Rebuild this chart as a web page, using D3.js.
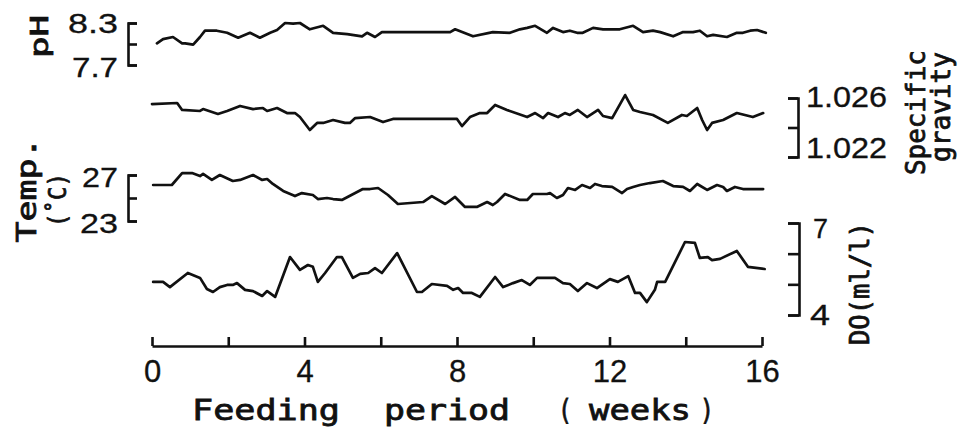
<!DOCTYPE html>
<html>
<head>
<meta charset="utf-8">
<script src="https://cdn.jsdelivr.net/npm/d3@7"></script>
<style>
  html, body { margin: 0; background: #fff; }
  svg { display: block; }
</style>
</head>
<body>
<svg id="chart" width="966" height="429"></svg>
<script>
// ---- Water quality records over the feeding period (weeks) ----
const phWeeks = [0.13,0.29,0.55,0.79,0.87,1.08,1.26,1.39,1.70,1.97,2.26,2.57,2.83,3.10,3.28,3.49,3.70,3.88,4.14,4.49,4.75,5.12,5.51,5.64,5.85,6.03,7.82,7.95,8.42,8.94,9.39,9.65,9.84,10.05,10.36,10.52,10.78,10.96,11.15,11.30,11.57,11.83,12.27,12.62,12.88,13.14,13.33,13.67,13.93,14.19,14.37,14.56,14.72,15.08,15.34,15.50,15.69,15.87,16.10];
const phValues = [8.01,8.07,8.10,8.01,8.01,7.99,8.10,8.19,8.19,8.16,8.09,8.16,8.09,8.16,8.20,8.30,8.29,8.30,8.21,8.26,8.16,8.14,8.11,8.16,8.10,8.17,8.17,8.21,8.11,8.17,8.16,8.21,8.23,8.26,8.16,8.23,8.17,8.19,8.16,8.16,8.23,8.21,8.21,8.26,8.17,8.19,8.17,8.11,8.17,8.17,8.19,8.11,8.13,8.10,8.16,8.16,8.19,8.20,8.16];

const sgWeeks = [0,0.66,0.79,1.26,1.34,1.73,1.97,2.31,2.65,2.91,3.02,3.28,3.54,3.75,3.88,4.14,4.33,4.49,4.75,5.06,5.19,5.33,5.72,6.06,6.32,8.00,8.13,8.34,8.60,8.79,9.00,9.31,9.84,10.05,10.26,10.39,10.65,10.83,10.96,11.17,11.41,11.70,11.83,12.07,12.41,12.62,12.80,13.14,13.53,13.90,14.03,14.30,14.43,14.56,14.69,14.98,15.34,15.76,16.03];
const sgValues = [1.02559,1.02566,1.02519,1.02512,1.02525,1.02492,1.02512,1.02546,1.02525,1.02532,1.02512,1.02532,1.02498,1.02498,1.02471,1.02383,1.02431,1.02431,1.02451,1.02431,1.02431,1.02464,1.02471,1.02437,1.02458,1.02458,1.02410,1.02471,1.02498,1.02498,1.02553,1.02519,1.02471,1.02498,1.02464,1.02498,1.02471,1.02498,1.02485,1.02519,1.02471,1.02519,1.02478,1.02464,1.02620,1.02519,1.02505,1.02485,1.02431,1.02485,1.02478,1.02532,1.02451,1.02383,1.02431,1.02451,1.02498,1.02471,1.02498];

const tempWeeks = [0.03,0.52,0.79,1.05,1.26,1.34,1.57,1.78,2.12,2.31,2.65,2.89,3.02,3.17,3.44,3.75,3.93,4.22,4.35,4.59,4.75,4.98,5.33,5.53,5.72,5.93,6.19,6.45,7.11,7.34,7.69,7.95,8.21,8.52,8.79,8.94,9.05,9.26,9.65,9.84,9.99,10.36,10.44,10.62,10.78,10.91,11.10,11.28,11.49,11.62,11.80,12.07,12.33,12.46,12.62,12.80,13.06,13.40,13.67,13.93,14.11,14.30,14.56,14.82,14.98,15.08,15.29,15.50,16.03];
const tempValues = [26.13,26.13,27.17,27.17,26.91,27.09,26.57,27.00,26.48,26.57,27.00,26.57,26.65,26.22,25.61,25.17,25.43,25.26,24.91,25.00,24.91,24.83,25.43,25.78,25.78,25.87,25.26,24.48,24.65,25.17,24.48,25.09,24.22,24.22,24.65,24.39,24.65,25.35,24.83,24.83,25.35,25.35,25.43,25.00,25.26,25.87,25.70,26.13,25.87,26.22,26.04,25.96,25.43,25.78,25.96,26.13,26.30,26.48,26.04,25.96,25.61,26.22,25.70,26.13,25.96,25.61,25.96,25.78,25.78];

const doWeeks = [0.03,0.29,0.47,0.94,1.26,1.44,1.60,1.78,1.97,2.12,2.23,2.44,2.65,2.89,3.02,3.23,3.62,3.88,4.09,4.22,4.35,4.54,4.85,4.98,5.27,5.46,5.67,5.85,6.03,6.43,6.95,7.08,7.34,7.74,7.90,8.03,8.16,8.39,8.60,9.00,9.21,9.47,9.70,9.91,10.10,10.57,10.78,10.96,11.17,11.41,11.67,12.01,12.22,12.49,12.67,12.80,12.98,13.19,13.25,13.46,13.98,14.24,14.37,14.58,14.69,14.90,15.34,15.63,16.07];
const doValues = [5.08,5.08,4.91,5.37,5.21,4.85,4.75,4.91,4.98,4.98,5.04,4.82,4.78,4.62,4.78,4.59,5.89,5.47,5.63,5.57,5.08,5.37,5.89,5.89,5.21,5.34,5.37,5.53,5.37,6.02,4.75,4.75,5.01,4.95,4.82,4.88,4.72,4.72,4.59,5.24,4.91,5.04,5.14,4.98,5.21,5.21,5.04,5.01,4.78,5.04,4.88,5.17,5.08,5.27,4.72,4.72,4.42,4.82,5.08,5.08,6.38,6.35,5.86,5.89,5.79,5.83,6.09,5.57,5.50];

// ---- Axis ticks and labels ----
const xTicks = [0, 2, 4, 6, 8, 10, 12, 14, 16];
const xTickLabels = [0, 4, 8, 12, 16];
const phTicks = [7.7, 8.0, 8.3];
const phLabels = ["8.3", "7.7"];
const sgTicks = [1.022, 1.024, 1.026];
const sgLabels = ["1.026", "1.022"];
const tempTicks = [23, 25, 27];
const tempLabels = ["27", "23"];
const doTicks = [4, 5, 6, 7];
const doLabels = ["7", "4"];

const svg = d3.select("#chart");
const INK = "#111";
const SANS = "'Liberation Sans', Arial, sans-serif";
const MONO = "'DejaVu Sans Mono', 'Liberation Mono', monospace";

const x = d3.scaleLinear().domain([0, 16]).range([152, 762]);
const yPH = d3.scaleLinear().domain([7.7, 8.3]).range([65, 23]);
const ySG = d3.scaleLinear().domain([1.022, 1.026]).range([157, 98]);
const yTemp = d3.scaleLinear().domain([23, 27]).range([221, 175]);
const yDO = d3.scaleLinear().domain([4, 7]).range([315, 223]);

// ---- Traces ----
function trace(weeks, values, y) {
  const pts = weeks.map((w, i) => [w, values[i]]);
  svg.append("path")
    .datum(pts)
    .attr("fill", "none")
    .attr("stroke", INK)
    .attr("stroke-width", 2.7)
    .attr("stroke-linejoin", "round")
    .attr("stroke-linecap", "round")
    .attr("d", d3.line().x(d => x(d[0])).y(d => y(d[1])));
}
trace(phWeeks, phValues, yPH);
trace(sgWeeks, sgValues, ySG);
trace(tempWeeks, tempValues, yTemp);
trace(doWeeks, doValues, yDO);

// ---- Bracket scales ----
function bracket(axis, tx) {
  const g = svg.append("g").attr("transform", `translate(${tx},0)`).call(axis);
  g.selectAll("path.domain").attr("stroke", INK).attr("stroke-width", 2.6).attr("fill", "none");
  g.selectAll(".tick line").attr("stroke", INK).attr("stroke-width", 2.6);
  g.selectAll(".tick text").remove();
  return g;
}
bracket(d3.axisRight(yPH).tickValues(phTicks).tickSize(9).tickSizeOuter(9).tickFormat(""), 128);
bracket(d3.axisRight(yTemp).tickValues(tempTicks).tickSize(9).tickSizeOuter(9).tickFormat(""), 128);
bracket(d3.axisLeft(ySG).tickValues(sgTicks).tickSize(10).tickSizeOuter(10).tickFormat(""), 798);
bracket(d3.axisLeft(yDO).tickValues(doTicks).tickSize(11).tickSizeOuter(11).tickFormat(""), 799);

// ---- Text helpers ----
function text(str, px, py, opt) {
  const t = svg.append("text")
    .attr("x", px).attr("y", py)
    .attr("fill", INK)
    .attr("font-family", opt.font || SANS)
    .attr("font-size", opt.size)
    .attr("text-anchor", opt.anchor || "start")
    .text(str);
  if (opt.heavy) t.attr("stroke", INK).attr("stroke-width", opt.heavy);
  if (opt.len) t.attr("textLength", opt.len).attr("lengthAdjust", "spacingAndGlyphs");
  return t;
}
function vtext(str, bx, cy, opt) {
  const t = svg.append("text")
    .attr("transform", `translate(${bx},${cy}) rotate(-90)`)
    .attr("fill", INK)
    .attr("stroke", INK)
    .attr("stroke-width", 0.8)
    .attr("font-family", opt.font || MONO)
    .attr("font-size", opt.size)
    .attr("text-anchor", "middle")
    .text(str);
  if (opt.len) t.attr("textLength", opt.len).attr("lengthAdjust", "spacingAndGlyphs");
  return t;
}

// Scale value labels
text(phLabels[0], 118, yPH(8.3) + 10, { size: 28, anchor: "end", len: 50, heavy: 0.3 });
text(phLabels[1], 118, yPH(7.7) + 12, { size: 28, anchor: "end", len: 46, heavy: 0.3 });
text(tempLabels[0], 118, yTemp(27) + 12, { size: 28, anchor: "end", len: 36, heavy: 0.3 });
text(tempLabels[1], 118, yTemp(23) + 12, { size: 28, anchor: "end", len: 38, heavy: 0.3 });
text(sgLabels[0], 806, ySG(1.026) + 9, { size: 29, len: 81, heavy: 0.3 });
text(sgLabels[1], 806, ySG(1.022) + 1, { size: 29, len: 81, heavy: 0.3 });
text(doLabels[0], 813, yDO(7) + 15, { size: 28, len: 15, heavy: 0.3 });
text(doLabels[1], 810, yDO(4) + 10, { size: 29, len: 20, heavy: 0.3 });

// Series titles
vtext("pH", 48, 36.5, { size: 25, len: 43 });
vtext("Temp.", 36, 190, { size: 26, len: 105 });
vtext("(˚C)", 66, 200, { size: 25, len: 54 });
vtext("Specific", 925, 112.5, { size: 27, len: 125 });
vtext("gravity", 950, 107, { size: 27, len: 110 });
vtext("DO(ml/l)", 869, 283.5, { size: 27, len: 123 });

// ---- Time axis ----
const xAxis = d3.axisBottom(x)
  .tickValues(xTicks)
  .tickSize(-9)
  .tickSizeOuter(0)
  .tickPadding(14)
  .tickFormat(d => xTickLabels.includes(d) ? String(d) : "");
const gx = svg.append("g").attr("transform", "translate(0,346)").call(xAxis);
gx.selectAll("path.domain").attr("stroke", INK).attr("stroke-width", 2.6);
gx.selectAll(".tick line").attr("stroke", INK).attr("stroke-width", 2.6);
gx.selectAll(".tick text")
  .attr("fill", INK)
  .attr("stroke", INK)
  .attr("stroke-width", 0.3)
  .attr("font-family", SANS)
  .attr("font-size", 31)
  .attr("dy", "0.71em");

const titleOpt = { font: MONO, size: 29, heavy: 0.8 };
text("Feeding", 192, 420, { ...titleOpt, len: 148 });
text("period", 384, 420, { ...titleOpt, len: 126 });
text("(", 558, 420, { ...titleOpt, len: 14 });
text("weeks", 589, 420, { ...titleOpt, len: 102 });
text(")", 700, 420, { ...titleOpt, len: 14 });
</script>
</body>
</html>
